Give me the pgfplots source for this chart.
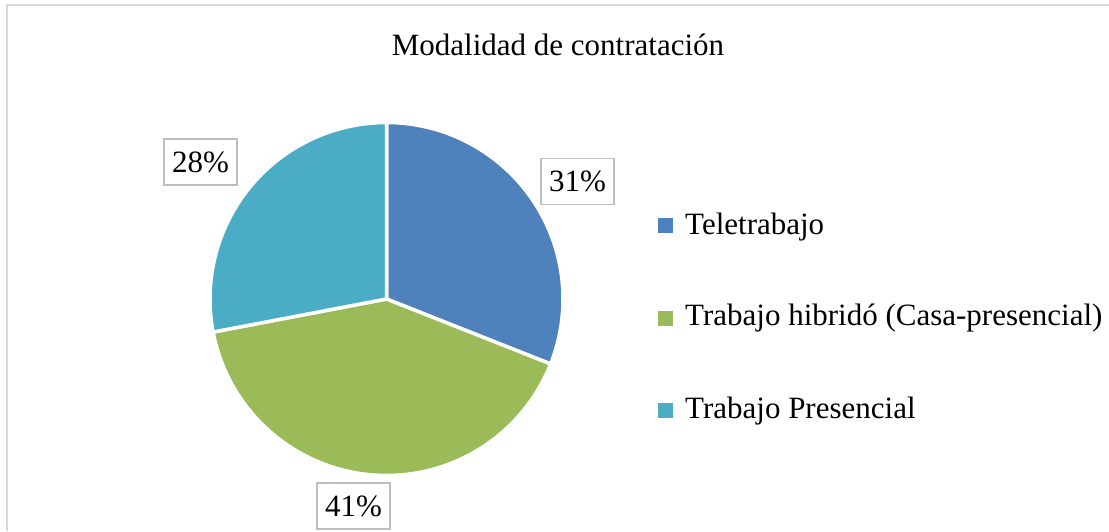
\documentclass[border=0pt]{standalone}
\usepackage{pgfplots}
\pgfplotsset{compat=1.18}
\usepackage{pgfplotstable}
\usepackage{fontspec}
\setmainfont{Liberation Serif}
\definecolor{cTele}{HTML}{4F81BD}
\definecolor{cHib}{HTML}{9BBB59}
\definecolor{cPres}{HTML}{4BACC6}
\definecolor{cBorder}{HTML}{D9D9D9}
\definecolor{cLabBox}{HTML}{BFBFBF}
\pgfplotstableread{
name value
Teletrabajo 31
Hibrido 41
Presencial 28
}\piedata
\newcommand{\chartfont}{\fontsize{31}{37}\selectfont}
\begin{document}
\begin{tikzpicture}
\useasboundingbox (0,0) rectangle (1109pt,531pt);
\pgfplotstablegetelem{0}{value}\of\piedata \let\va\pgfplotsretval
\pgfplotstablegetelem{1}{value}\of\piedata \let\vb\pgfplotsretval
\pgfplotstablegetelem{2}{value}\of\piedata \let\vc\pgfplotsretval
\pgfmathsetmacro{\aA}{90}
\pgfmathsetmacro{\aB}{90-3.6*\va}
\pgfmathsetmacro{\aC}{\aB-3.6*\vb}
\pgfmathsetmacro{\aD}{\aC-3.6*\vc}
\begin{axis}[at={(0,0)}, anchor=south west, scale only axis,
  width=1109pt, height=531pt, xmin=0, xmax=1109, ymin=0, ymax=531,
  hide axis, clip=false]
% border (top and left visible)
\draw[cBorder, line width=2pt] (axis cs:7,0) -- (axis cs:7,526) -- (axis cs:1109,526);
% wedges
\addplot[fill=cTele, draw=white, line width=3.5pt, line join=round, domain=\aB:\aA, samples=90, variable=\t]
  ({386.5+176.5*cos(\t)},{232+176.5*sin(\t)}) -- (axis cs:386.5,232) -- cycle;
\addplot[fill=cHib, draw=white, line width=3.5pt, line join=round, domain=\aC:\aB, samples=110, variable=\t]
  ({386.5+176.5*cos(\t)},{232+176.5*sin(\t)}) -- (axis cs:386.5,232) -- cycle;
\addplot[fill=cPres, draw=white, line width=3.5pt, line join=round, domain=\aD:\aC, samples=90, variable=\t]
  ({386.5+176.5*cos(\t)},{232+176.5*sin(\t)}) -- (axis cs:386.5,232) -- cycle;
% data labels
\node[draw=cLabBox, line width=1.2pt, fill=white, inner xsep=8pt, minimum height=46pt, font=\chartfont]
  at (axis cs:577.5,349.5) {\va\%};
\node[draw=cLabBox, line width=1.2pt, fill=white, inner xsep=8pt, minimum height=46pt, font=\chartfont]
  at (axis cs:353.5,25) {\vb\%};
\node[draw=cLabBox, line width=1.2pt, fill=white, inner xsep=8pt, minimum height=46pt, font=\chartfont]
  at (axis cs:200.5,369) {\vc\%};
% title
\node[anchor=base, font=\chartfont, inner sep=0pt] at (axis cs:558,475.3) {Modalidad de contratación};
% legend
\fill[cTele] (axis cs:658,298) rectangle (axis cs:673,313);
\fill[cHib] (axis cs:658,205.5) rectangle (axis cs:673,220.5);
\fill[cPres] (axis cs:658,113.5) rectangle (axis cs:673,128.5);
\node[anchor=base west, font=\chartfont, inner sep=0pt] at (axis cs:685,296) {Teletrabajo};
\node[anchor=base west, font=\chartfont, inner sep=0pt] at (axis cs:685,205) {Trabajo hibridó (Casa-presencial)};
\node[anchor=base west, font=\chartfont, inner sep=0pt] at (axis cs:685,113) {Trabajo Presencial};
\end{axis}
\end{tikzpicture}
\end{document}
